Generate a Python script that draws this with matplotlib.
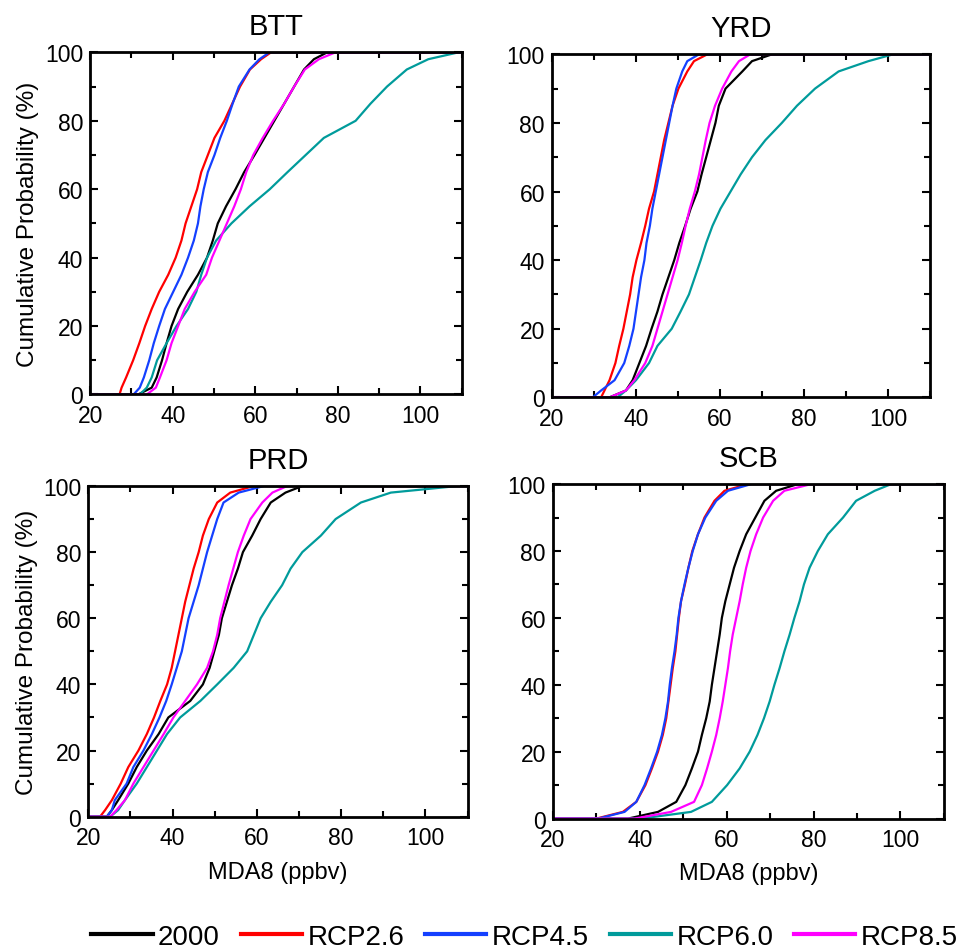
import matplotlib
matplotlib.use("Agg")
import matplotlib.pyplot as plt
from matplotlib.ticker import MultipleLocator
import numpy as np

plt.rcParams['font.family'] = ['Liberation Sans', 'DejaVu Sans']

regions = ['BTT', 'YRD', 'PRD', 'SCB']
scenarios = ['2000', 'RCP2.6', 'RCP4.5', 'RCP6.0', 'RCP8.5']
colors = ['#000000', '#ff0000', '#1440ff', '#009b9b', '#ff00ff']

# cumulative probability levels (%) and the MDA8 value (ppbv) read at each level
prob = [0, 2, 5, 10, 15, 20, 25, 30, 35, 40, 45, 50, 55, 60, 65, 70, 75, 80, 85, 90, 95, 98, 100]

btt_2000 = [31.6, 34.9, 36.1, 37.4, 38.5, 39.7, 41.3, 43.5, 46.1, 48.3, 49.7, 50.9, 52.9, 55.2, 57.3, 59.8, 62.2, 64.6, 67.0, 69.4, 71.8, 74.2, 77.4]
btt_rcp26 = [27.1, 27.6, 28.7, 30.4, 31.9, 33.3, 34.9, 36.7, 38.9, 40.7, 42.1, 43.1, 44.5, 45.9, 46.9, 48.5, 50.1, 52.5, 54.4, 56.3, 58.7, 61.4, 63.8]
btt_rcp45 = [30.5, 32.0, 33.0, 34.3, 35.4, 36.7, 38.1, 40.1, 42.1, 43.7, 45.1, 46.1, 46.7, 47.5, 48.5, 50.1, 51.5, 53.1, 54.5, 56.0, 58.6, 61.0, 63.4]
btt_rcp60 = [32.0, 33.7, 34.9, 36.2, 38.5, 40.9, 43.7, 45.7, 46.9, 48.3, 50.5, 54.2, 58.6, 63.5, 67.8, 72.2, 76.6, 84.3, 87.9, 91.9, 96.7, 101.9, 109.2]
btt_rcp85 = [33.7, 35.9, 36.9, 38.5, 39.7, 41.3, 42.9, 45.3, 48.1, 49.5, 51.3, 53.1, 54.9, 56.5, 57.8, 59.5, 61.8, 64.3, 67.0, 69.4, 72.0, 75.4, 79.4]

yrd_2000 = [33.7, 37.6, 39.2, 40.8, 42.4, 43.7, 45.1, 46.3, 47.7, 49.1, 50.3, 51.7, 53.0, 54.6, 55.6, 56.7, 57.8, 58.9, 59.7, 61.3, 65.3, 67.6, 72.4]
yrd_rcp26 = [31.7, 32.5, 33.7, 35.1, 36.0, 37.0, 37.8, 38.6, 39.2, 40.1, 41.2, 42.2, 43.1, 44.3, 45.1, 45.9, 46.7, 47.7, 48.7, 50.1, 52.2, 53.8, 57.0]
yrd_rcp45 = [29.7, 31.7, 34.9, 37.2, 38.4, 39.4, 40.0, 40.6, 41.2, 42.0, 42.5, 43.3, 43.9, 44.7, 45.5, 46.3, 47.1, 47.9, 48.7, 49.6, 51.0, 52.2, 55.0]
yrd_rcp60 = [35.6, 37.6, 40.0, 43.1, 45.1, 48.5, 50.6, 52.6, 54.0, 55.4, 56.7, 58.2, 60.1, 62.5, 64.9, 67.6, 70.8, 74.7, 78.3, 82.6, 88.2, 95.3, 101.2]
yrd_rcp85 = [33.7, 37.6, 39.6, 42.2, 43.9, 45.1, 46.3, 47.5, 48.7, 49.9, 50.9, 51.8, 52.8, 54.0, 55.0, 55.8, 56.6, 57.5, 58.8, 60.5, 62.7, 64.5, 67.2]

prd_2000 = [24.4, 25.6, 27.1, 29.5, 31.5, 33.9, 36.7, 39.0, 44.2, 47.2, 48.8, 49.9, 51.0, 51.7, 52.9, 54.1, 55.5, 56.7, 58.9, 60.9, 63.3, 66.8, 70.8]
prd_rcp26 = [22.8, 24.0, 25.6, 27.7, 29.5, 31.9, 33.9, 35.6, 37.1, 38.7, 39.8, 40.6, 41.4, 42.2, 43.0, 44.0, 45.0, 46.2, 47.2, 48.6, 50.6, 53.7, 59.3]
prd_rcp45 = [24.4, 25.6, 26.3, 29.1, 30.7, 33.1, 35.1, 36.9, 38.5, 39.8, 41.0, 42.2, 43.0, 43.8, 45.0, 46.2, 47.2, 48.2, 49.4, 50.6, 52.1, 55.7, 61.7]
prd_rcp60 = [25.2, 27.1, 28.7, 31.5, 33.9, 36.3, 38.7, 41.8, 46.6, 50.6, 54.5, 57.7, 59.3, 60.9, 63.3, 66.0, 68.0, 70.8, 75.2, 78.7, 84.7, 91.8, 107.7]
prd_rcp85 = [25.2, 26.7, 28.7, 30.7, 33.1, 35.5, 37.9, 40.2, 43.0, 45.8, 48.2, 49.6, 50.6, 51.3, 52.3, 53.3, 54.4, 55.5, 56.9, 58.5, 61.3, 63.7, 67.2]

scb_2000 = [37.3, 44.2, 48.4, 50.5, 52.0, 53.4, 54.3, 55.3, 56.1, 56.6, 57.2, 57.8, 58.4, 58.9, 59.7, 60.7, 61.7, 63.0, 64.5, 66.6, 68.7, 71.4, 76.4]
scb_rcp26 = [30.0, 36.1, 39.2, 41.3, 42.8, 44.2, 45.3, 46.1, 46.6, 47.1, 47.6, 48.2, 48.6, 49.0, 49.5, 50.4, 51.2, 52.1, 53.4, 54.9, 57.2, 59.5, 64.9]
scb_rcp45 = [30.4, 36.5, 39.2, 41.1, 42.6, 44.0, 45.1, 45.9, 46.5, 46.9, 47.4, 48.0, 48.5, 48.9, 49.5, 50.3, 51.2, 52.2, 53.4, 55.1, 57.6, 60.3, 65.7]
scb_rcp60 = [40.3, 51.8, 56.6, 60.1, 63.0, 65.3, 67.1, 68.6, 69.9, 71.0, 72.2, 73.3, 74.5, 75.6, 76.8, 77.8, 79.1, 81.0, 83.3, 86.8, 89.8, 94.1, 97.9]
scb_rcp85 = [38.8, 47.2, 52.5, 54.3, 55.5, 56.6, 57.6, 58.4, 59.1, 59.7, 60.3, 60.8, 61.4, 62.2, 63.0, 63.7, 64.5, 65.5, 66.8, 68.4, 70.7, 73.3, 79.5]

data = {
    'BTT': [btt_2000, btt_rcp26, btt_rcp45, btt_rcp60, btt_rcp85],
    'YRD': [yrd_2000, yrd_rcp26, yrd_rcp45, yrd_rcp60, yrd_rcp85],
    'PRD': [prd_2000, prd_rcp26, prd_rcp45, prd_rcp60, prd_rcp85],
    'SCB': [scb_2000, scb_rcp26, scb_rcp45, scb_rcp60, scb_rcp85],
}

# axes boxes [left, bottom, width, height] in figure fraction
boxes = {
    'BTT': [0.093, 0.585, 0.383, 0.359],
    'YRD': [0.569, 0.582, 0.390, 0.360],
    'PRD': [0.091, 0.142, 0.391, 0.347],
    'SCB': [0.570, 0.140, 0.403, 0.351],
}

fig = plt.figure(figsize=(9.7, 9.53), dpi=100)

for i, reg in enumerate(regions):
    ax = fig.add_axes(boxes[reg])
    ax.set_xlim(20, 110)
    ax.set_ylim(0, 100)
    x0, x1 = ax.get_xlim()
    for series, name, col in zip(data[reg], scenarios, colors):
        # flat 0 % before the lowest value and flat 100 % after the highest
        xs = np.concatenate(([x0], series, [x1]))
        ys = np.concatenate(([0], prob, [100]))
        ax.plot(xs, ys, color=col, lw=1.6, label=name)

    ax.set_title(reg, fontsize=21, pad=13)
    ax.xaxis.set_major_locator(MultipleLocator(20))
    ax.xaxis.set_minor_locator(MultipleLocator(10))
    ax.yaxis.set_major_locator(MultipleLocator(20))
    ax.yaxis.set_minor_locator(MultipleLocator(10))
    ax.tick_params(which='both', direction='in', top=True, right=True, width=1.5)
    ax.tick_params(which='major', length=6, labelsize=16.5)
    ax.tick_params(axis='x', which='major', pad=7)
    ax.tick_params(axis='y', which='major', pad=5)
    ax.tick_params(which='minor', length=4)
    for sp in ax.spines.values():
        sp.set_linewidth(2)
    if i % 2 == 0:
        ax.set_ylabel('Cumulative Probability (%)', fontsize=17.5, labelpad=4)
    if i >= 2:
        ax.set_xlabel('MDA8 (ppbv)', fontsize=17, labelpad=8)
    if i == 0:
        handles, labels = ax.get_legend_handles_labels()

leg = fig.legend(handles, labels, loc='center', bbox_to_anchor=(0.541, 0.016), ncol=5,
                 frameon=False, fontsize=20, handlelength=2.2, handletextpad=0.2,
                 columnspacing=0.75)
for ln in leg.get_lines():
    ln.set_linewidth(3)

fig.savefig('out.png', dpi=100)
